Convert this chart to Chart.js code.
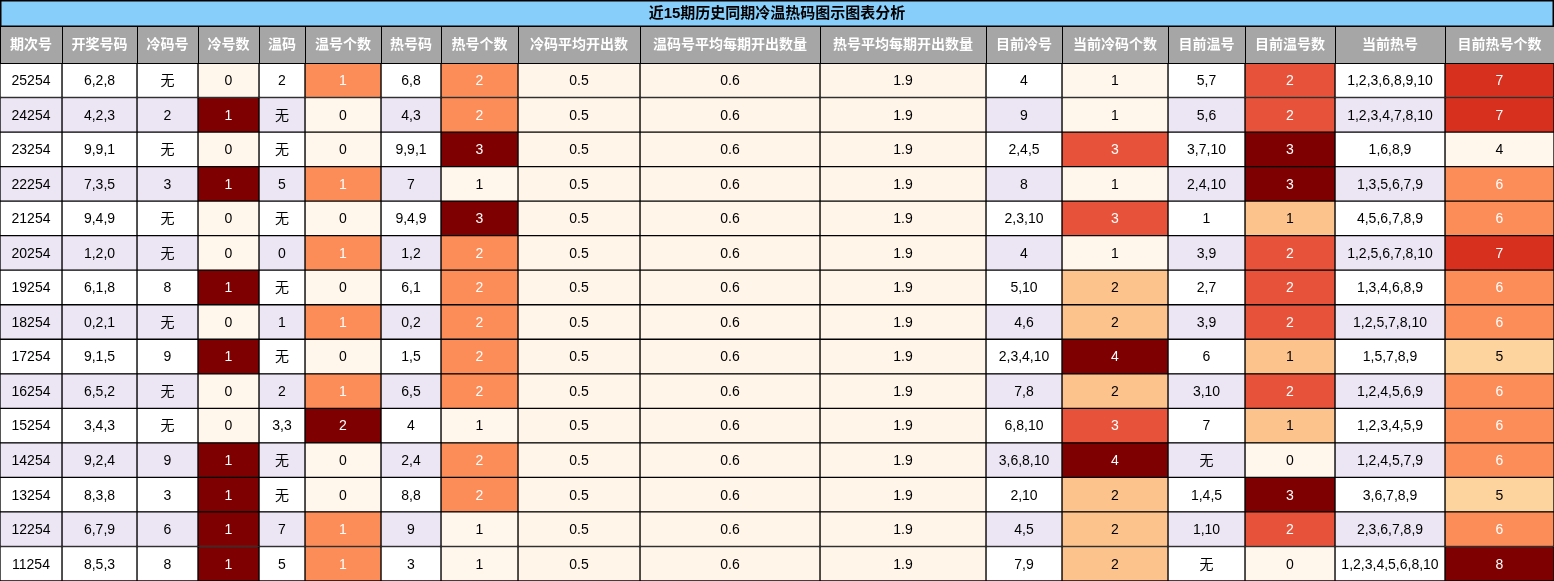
<!DOCTYPE html>
<html>
<head>
<meta charset="utf-8">
<script src="https://cdn.jsdelivr.net/npm/chart.js@4"></script>
<style>
  html, body { margin: 0; padding: 0; background: #fff; }
  #wrap { width: 1554px; height: 581px; }
</style>
</head>
<body>
<div id="wrap"><canvas id="tabela"></canvas></div>
<script>
// Dados da tabela
const titulo = '近15期历史同期冷温热码图示图表分析';
const cabecalhos = ['期次号', '开奖号码', '冷码号', '冷号数', '温码', '温号个数', '热号码', '热号个数', '冷码平均开出数',
    '温码号平均每期开出数量', '热号平均每期开出数量', '目前冷号', '当前冷码个数', '目前温号', '目前温号数', '当前热号', '目前热号个数'];
const periodos = ['25254', '24254', '23254', '22254', '21254', '20254', '19254', '18254', '17254', '16254', '15254', '14254', '13254', '12254', '11254'];
const numerosSorteados = ['6,2,8', '4,2,3', '9,9,1', '7,3,5', '9,4,9', '1,2,0', '6,1,8', '0,2,1', '9,1,5', '6,5,2', '3,4,3', '9,2,4', '8,3,8', '6,7,9', '8,5,3'];
const codigosFrios = ['无', '2', '无', '3', '无', '无', '8', '无', '9', '无', '无', '9', '3', '6', '8'];
const qtdFrios = [0, 1, 0, 1, 0, 0, 1, 0, 1, 0, 0, 1, 1, 1, 1];
const codigosMornos = ['2', '无', '无', '5', '无', '0', '无', '1', '无', '2', '3,3', '无', '无', '7', '5'];
const qtdMornos = [1, 0, 0, 1, 0, 1, 0, 1, 0, 1, 2, 0, 0, 1, 1];
const codigosQuentes = ['6,8', '4,3', '9,9,1', '7', '9,4,9', '1,2', '6,1', '0,2', '1,5', '6,5', '4', '2,4', '8,8', '9', '3'];
const qtdQuentes = [2, 2, 3, 1, 3, 2, 2, 2, 2, 2, 1, 2, 2, 1, 1];
const mediaFrios = Array(15).fill('0.5');
const mediaMornos = Array(15).fill('0.6');
const mediaQuentes = Array(15).fill('1.9');
const friosAtuais = ['4', '9', '2,4,5', '8', '2,3,10', '4', '5,10', '4,6', '2,3,4,10', '7,8', '6,8,10', '3,6,8,10', '2,10', '4,5', '7,9'];
const qtdFriosAtuais = [1, 1, 3, 1, 3, 1, 2, 2, 4, 2, 3, 4, 2, 2, 2];
const mornosAtuais = ['5,7', '5,6', '3,7,10', '2,4,10', '1', '3,9', '2,7', '3,9', '6', '3,10', '7', '无', '1,4,5', '1,10', '无'];
const qtdMornosAtuais = [2, 2, 3, 3, 1, 2, 2, 2, 1, 2, 1, 0, 3, 2, 0];
const quentesAtuais = ['1,2,3,6,8,9,10', '1,2,3,4,7,8,10', '1,6,8,9', '1,3,5,6,7,9', '4,5,6,7,8,9', '1,2,5,6,7,8,10', '1,3,4,6,8,9',
    '1,2,5,7,8,10', '1,5,7,8,9', '1,2,4,5,6,9', '1,2,3,4,5,9', '1,2,4,5,7,9', '3,6,7,8,9', '2,3,6,7,8,9', '1,2,3,4,5,6,8,10'];
const qtdQuentesAtuais = [7, 7, 4, 6, 6, 7, 6, 6, 5, 6, 6, 6, 5, 6, 8];

// Colunas: valores + tipo de coloração
const colunas = [
    { v: periodos, tipo: 'texto' }, { v: numerosSorteados, tipo: 'texto' }, { v: codigosFrios, tipo: 'texto' },
    { v: qtdFrios, tipo: 'calor' }, { v: codigosMornos, tipo: 'texto' }, { v: qtdMornos, tipo: 'calor' },
    { v: codigosQuentes, tipo: 'texto' }, { v: qtdQuentes, tipo: 'calor' }, { v: mediaFrios, tipo: 'fixo' },
    { v: mediaMornos, tipo: 'fixo' }, { v: mediaQuentes, tipo: 'fixo' }, { v: friosAtuais, tipo: 'texto' },
    { v: qtdFriosAtuais, tipo: 'calor' }, { v: mornosAtuais, tipo: 'texto' }, { v: qtdMornosAtuais, tipo: 'calor' },
    { v: quentesAtuais, tipo: 'texto' }, { v: qtdQuentesAtuais, tipo: 'calor' }
];
// Larguras das colunas (layout, em pixels)
const larguras = [62, 75, 61, 61, 46, 76, 60, 77, 122, 180, 166, 76, 106, 77, 90, 110, 109];

const paleta = [[0, '#fff7ec'], [0.25, '#fdd49e'], [0.33, '#fdc38d'], [0.5, '#fc8d59'], [0.67, '#e7533a'], [0.75, '#d7301f'], [1, '#7f0000']];
function corCalor(t) {
    let melhor = paleta[0];
    paleta.forEach(p => { if (Math.abs(p[0] - t) < Math.abs(melhor[0] - t)) melhor = p; });
    return melhor[1];
}

function estiloCelula(col, i) {
    if (col.tipo === 'fixo') return { fundo: '#fff5e9', texto: '#000' };
    if (col.tipo === 'texto') return { fundo: i % 2 ? '#ece6f4' : '#ffffff', texto: '#000' };
    const min = Math.min(...col.v), max = Math.max(...col.v);
    const t = (col.v[i] - min) / (max - min);
    return { fundo: corCalor(t), texto: t >= 0.45 ? '#fff' : '#000' };
}

const FONTE = '"Liberation Sans", "Noto Sans CJK SC", sans-serif';

const datasets = colunas.map((col, c) => ({
    data: periodos.map(() => larguras[c]),
    backgroundColor: periodos.map((_, i) => estiloCelula(col, i).fundo),
    borderColor: '#000',
    borderWidth: 1,
    borderSkipped: false,
    barPercentage: 1,
    categoryPercentage: 1
}));

// Plugin que desenha título, cabeçalho e textos das células
const pluginTabela = {
    id: 'pluginTabela',
    afterDatasetsDraw(chart) {
        const ctx = chart.ctx;
        const xs = chart.scales.x;
        const topo = chart.chartArea.top;
        ctx.save();
        // título
        ctx.fillStyle = '#87cefa';
        ctx.fillRect(0, 0, xs.getPixelForValue(1554), 26);
        ctx.strokeStyle = '#000';
        ctx.lineWidth = 1.5;
        ctx.strokeRect(0.75, 0.75, xs.getPixelForValue(1554) - 1.5, 25.5);
        ctx.fillStyle = '#000';
        ctx.font = 'bold 15px ' + FONTE;
        ctx.textAlign = 'center';
        ctx.textBaseline = 'middle';
        ctx.fillText(titulo, xs.getPixelForValue(777), 14);
        // cabeçalho
        let acum = 0;
        cabecalhos.forEach((h, c) => {
            const x0 = xs.getPixelForValue(acum), x1 = xs.getPixelForValue(acum + larguras[c]);
            ctx.fillStyle = '#a6a6a6';
            ctx.fillRect(x0, 26, x1 - x0, topo - 26);
            ctx.strokeStyle = '#000';
            ctx.lineWidth = 1;
            ctx.strokeRect(x0 + 0.5, 26.5, x1 - x0, topo - 26);
            ctx.fillStyle = '#fff';
            ctx.font = 'bold 14px ' + FONTE;
            ctx.fillText(h, (x0 + x1) / 2, (26 + topo) / 2 + 1);
            acum += larguras[c];
        });
        // textos das células
        ctx.font = '14px ' + FONTE;
        colunas.forEach((col, c) => {
            chart.getDatasetMeta(c).data.forEach((bar, i) => {
                const p = bar.getProps(['x', 'y', 'base'], true);
                ctx.fillStyle = estiloCelula(col, i).texto;
                ctx.fillText(String(col.v[i]), (p.x + p.base) / 2, p.y + 1);
            });
        });
        ctx.restore();
    }
};

new Chart(document.getElementById('tabela').getContext('2d'), {
    type: 'bar',
    data: { labels: periodos, datasets: datasets },
    options: {
        indexAxis: 'y',
        responsive: true,
        maintainAspectRatio: false,
        animation: false,
        layout: { padding: { top: 63 } },
        plugins: { legend: { display: false }, tooltip: { enabled: false } },
        scales: {
            x: { stacked: true, min: 0, max: 1554, display: false },
            y: { stacked: true, display: false }
        }
    },
    plugins: [pluginTabela]
});
</script>
</body>
</html>
